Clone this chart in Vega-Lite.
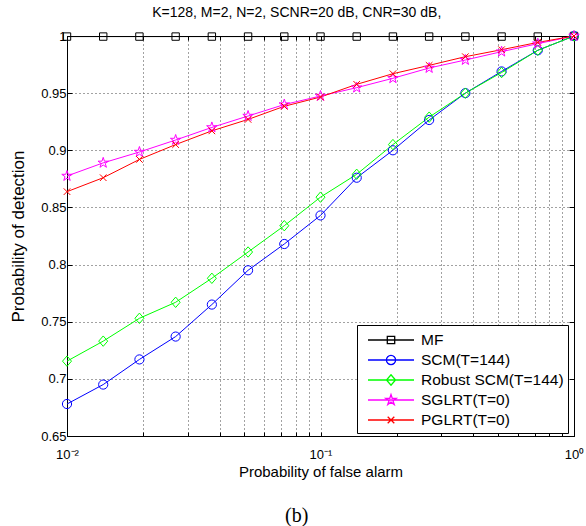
{
  "$schema": "https://vega.github.io/schema/vega-lite/v6.json",
  "padding": {"left": 9, "top": 5, "right": 5, "bottom": 0},
  "background": "white",
  "config": {
    "font": "Liberation Sans",
    "view": {"stroke": "black", "strokeWidth": 1},
    "axis": {
      "labelFont": "Liberation Sans", "labelFontSize": 13, "labelColor": "black",
      "titleFont": "Liberation Sans", "titleFontSize": 15, "titleFontWeight": "normal", "titleColor": "black",
      "domainColor": "black", "tickColor": "black",
      "gridColor": "#444", "gridDash": [1, 3], "gridOpacity": 1, "gridWidth": 1
    },
    "title": {"font": "Liberation Sans", "fontWeight": "normal", "color": "black"}
  },
  "title": {"text": "(b)", "orient": "bottom", "anchor": "middle", "font": "Liberation Serif", "fontSize": 20, "fontWeight": "normal", "offset": 26},
  "vconcat": [
    {
      "width": 507,
      "height": 400,
      "title": {"text": "K=128, M=2, N=2, SCNR=20 dB, CNR=30 dB,", "fontSize": 14, "anchor": "middle", "frame": "bounds", "offset": 9},
      "data": {"values": [
        {"x": 0.01, "y": 0.9995, "s": "MF"},
        {"x": 0.013895, "y": 0.9995, "s": "MF"},
        {"x": 0.019307, "y": 0.9995, "s": "MF"},
        {"x": 0.026827, "y": 0.9995, "s": "MF"},
        {"x": 0.037276, "y": 0.9995, "s": "MF"},
        {"x": 0.051795, "y": 0.9995, "s": "MF"},
        {"x": 0.071969, "y": 0.9995, "s": "MF"},
        {"x": 0.1, "y": 0.9995, "s": "MF"},
        {"x": 0.13895, "y": 0.9995, "s": "MF"},
        {"x": 0.19307, "y": 0.9995, "s": "MF"},
        {"x": 0.26827, "y": 0.9995, "s": "MF"},
        {"x": 0.37276, "y": 0.9995, "s": "MF"},
        {"x": 0.51795, "y": 0.9995, "s": "MF"},
        {"x": 0.71969, "y": 0.9995, "s": "MF"},
        {"x": 1, "y": 1, "s": "MF"},
        {"x": 0.01, "y": 0.678, "s": "SCM(T=144)"},
        {"x": 0.013895, "y": 0.695, "s": "SCM(T=144)"},
        {"x": 0.019307, "y": 0.717, "s": "SCM(T=144)"},
        {"x": 0.026827, "y": 0.737, "s": "SCM(T=144)"},
        {"x": 0.037276, "y": 0.765, "s": "SCM(T=144)"},
        {"x": 0.051795, "y": 0.795, "s": "SCM(T=144)"},
        {"x": 0.071969, "y": 0.818, "s": "SCM(T=144)"},
        {"x": 0.1, "y": 0.843, "s": "SCM(T=144)"},
        {"x": 0.13895, "y": 0.876, "s": "SCM(T=144)"},
        {"x": 0.19307, "y": 0.900, "s": "SCM(T=144)"},
        {"x": 0.26827, "y": 0.9265, "s": "SCM(T=144)"},
        {"x": 0.37276, "y": 0.950, "s": "SCM(T=144)"},
        {"x": 0.51795, "y": 0.969, "s": "SCM(T=144)"},
        {"x": 0.71969, "y": 0.9875, "s": "SCM(T=144)"},
        {"x": 1, "y": 1, "s": "SCM(T=144)"},
        {"x": 0.01, "y": 0.7155, "s": "Robust SCM(T=144)"},
        {"x": 0.013895, "y": 0.733, "s": "Robust SCM(T=144)"},
        {"x": 0.019307, "y": 0.753, "s": "Robust SCM(T=144)"},
        {"x": 0.026827, "y": 0.767, "s": "Robust SCM(T=144)"},
        {"x": 0.037276, "y": 0.788, "s": "Robust SCM(T=144)"},
        {"x": 0.051795, "y": 0.811, "s": "Robust SCM(T=144)"},
        {"x": 0.071969, "y": 0.834, "s": "Robust SCM(T=144)"},
        {"x": 0.1, "y": 0.859, "s": "Robust SCM(T=144)"},
        {"x": 0.13895, "y": 0.879, "s": "Robust SCM(T=144)"},
        {"x": 0.19307, "y": 0.905, "s": "Robust SCM(T=144)"},
        {"x": 0.26827, "y": 0.929, "s": "Robust SCM(T=144)"},
        {"x": 0.37276, "y": 0.950, "s": "Robust SCM(T=144)"},
        {"x": 0.51795, "y": 0.968, "s": "Robust SCM(T=144)"},
        {"x": 0.71969, "y": 0.9875, "s": "Robust SCM(T=144)"},
        {"x": 1, "y": 1, "s": "Robust SCM(T=144)"},
        {"x": 0.01, "y": 0.8775, "s": "SGLRT(T=0)"},
        {"x": 0.013895, "y": 0.889, "s": "SGLRT(T=0)"},
        {"x": 0.019307, "y": 0.8985, "s": "SGLRT(T=0)"},
        {"x": 0.026827, "y": 0.909, "s": "SGLRT(T=0)"},
        {"x": 0.037276, "y": 0.920, "s": "SGLRT(T=0)"},
        {"x": 0.051795, "y": 0.930, "s": "SGLRT(T=0)"},
        {"x": 0.071969, "y": 0.940, "s": "SGLRT(T=0)"},
        {"x": 0.1, "y": 0.9475, "s": "SGLRT(T=0)"},
        {"x": 0.13895, "y": 0.9548, "s": "SGLRT(T=0)"},
        {"x": 0.19307, "y": 0.963, "s": "SGLRT(T=0)"},
        {"x": 0.26827, "y": 0.972, "s": "SGLRT(T=0)"},
        {"x": 0.37276, "y": 0.979, "s": "SGLRT(T=0)"},
        {"x": 0.51795, "y": 0.9863, "s": "SGLRT(T=0)"},
        {"x": 0.71969, "y": 0.9933, "s": "SGLRT(T=0)"},
        {"x": 1, "y": 1, "s": "SGLRT(T=0)"},
        {"x": 0.01, "y": 0.8638, "s": "PGLRT(T=0)"},
        {"x": 0.013895, "y": 0.876, "s": "PGLRT(T=0)"},
        {"x": 0.019307, "y": 0.892, "s": "PGLRT(T=0)"},
        {"x": 0.026827, "y": 0.905, "s": "PGLRT(T=0)"},
        {"x": 0.037276, "y": 0.917, "s": "PGLRT(T=0)"},
        {"x": 0.051795, "y": 0.927, "s": "PGLRT(T=0)"},
        {"x": 0.071969, "y": 0.9385, "s": "PGLRT(T=0)"},
        {"x": 0.1, "y": 0.9466, "s": "PGLRT(T=0)"},
        {"x": 0.13895, "y": 0.9577, "s": "PGLRT(T=0)"},
        {"x": 0.19307, "y": 0.967, "s": "PGLRT(T=0)"},
        {"x": 0.26827, "y": 0.9743, "s": "PGLRT(T=0)"},
        {"x": 0.37276, "y": 0.9819, "s": "PGLRT(T=0)"},
        {"x": 0.51795, "y": 0.988, "s": "PGLRT(T=0)"},
        {"x": 0.71969, "y": 0.9944, "s": "PGLRT(T=0)"},
        {"x": 1, "y": 1, "s": "PGLRT(T=0)"}
      ]},
      "layer": [
        {
          "mark": {"type": "line", "strokeWidth": 1, "clip": true},
          "encoding": {
            "x": {"field": "x", "type": "quantitative", "title": "Probability of false alarm",
              "scale": {"type": "log", "domain": [0.01, 1]},
              "axis": {"values": [0.01,0.02,0.03,0.04,0.05,0.06,0.07,0.08,0.09,0.1,0.2,0.3,0.4,0.5,0.6,0.7,0.8,0.9,1],
                "labelExpr": "datum.value == 0.01 ? '10⁻²' : datum.value == 0.1 ? '10⁻¹' : datum.value == 1 ? '10⁰' : ''",
                "grid": true, "tickSize": -4, "labelPadding": 16, "titlePadding": 3, "labelFlush": false, "labelOverlap": false}},
            "y": {"field": "y", "type": "quantitative", "title": "Probability of detection",
              "scale": {"domain": [0.65, 1]},
              "axis": {"values": [0.65,0.7,0.75,0.8,0.85,0.9,0.95,1], "labelExpr": "format(datum.value, '.2~f')",
                "grid": true, "tickSize": -5, "labelPadding": 6, "titlePadding": 13, "titleFontSize": 17, "labelFlush": false}},
            "color": {"field": "s", "type": "nominal", "legend": null,
              "scale": {"domain": ["MF","SCM(T=144)","Robust SCM(T=144)","SGLRT(T=0)","PGLRT(T=0)"], "range": ["#000000","#0000FF","#00FF00","#FF00FF","#FF0000"]}}
          }
        },
        {
          "mark": {"type": "point", "filled": false, "strokeWidth": 1, "size": 400, "opacity": 1, "clip": false},
          "encoding": {
            "x": {"field": "x", "type": "quantitative", "scale": {"type": "log", "domain": [0.01, 1]}, "axis": null},
            "y": {"field": "y", "type": "quantitative", "scale": {"domain": [0.65, 1]}, "axis": null},
            "color": {"field": "s", "type": "nominal", "legend": null,
              "scale": {"domain": ["MF","SCM(T=144)","Robust SCM(T=144)","SGLRT(T=0)","PGLRT(T=0)"], "range": ["#000000","#0000FF","#00FF00","#FF00FF","#FF0000"]}},
            "shape": {"field": "s", "type": "nominal", "legend": null,
              "scale": {"domain": ["MF","SCM(T=144)","Robust SCM(T=144)","SGLRT(T=0)","PGLRT(T=0)"],
                "range": [
                  "M-0.37,-0.37L0.37,-0.37L0.37,0.37L-0.37,0.37Z",
                  "M-0.46,0A0.46,0.46,0,1,0,0.46,0A0.46,0.46,0,1,0,-0.46,0Z",
                  "M0,-0.52L0.45,0L0,0.52L-0.45,0Z",
                  "M0,-0.55L0.123,-0.17L0.523,-0.17L0.2,0.065L0.323,0.445L0,0.21L-0.323,0.445L-0.2,0.065L-0.523,-0.17L-0.123,-0.17Z",
                  "M-0.33,-0.33L0.33,0.33M-0.33,0.33L0.33,-0.33"
                ]}}
          }
        },
        {
          "transform": [{"filter": "datum.x > 10"}],
          "mark": {"type": "point", "filled": false, "strokeWidth": 1.3, "size": 400, "opacity": 1},
          "encoding": {
            "x": {"field": "x", "type": "quantitative", "scale": {"type": "log", "domain": [0.01, 1]}, "axis": null},
            "y": {"field": "y", "type": "quantitative", "scale": {"domain": [0.65, 1]}, "axis": null},
            "color": {"field": "s", "type": "nominal",
              "scale": {"domain": ["MF","SCM(T=144)","Robust SCM(T=144)","SGLRT(T=0)","PGLRT(T=0)"], "range": ["#000000","#0000FF","#00FF00","#FF00FF","#FF0000"]},
              "legend": {"title": null, "orient": "none", "legendX": 290, "legendY": 289, "labelFontSize": 15.5, "labelFont": "Liberation Sans", "labelColor": "black",
                "symbolSize": 400, "symbolStrokeWidth": 1.3, "symbolOpacity": 1, "symbolOffset": 19, "labelOffset": 19, "padding": 4, "rowPadding": 0,
                "fillColor": "white", "strokeColor": "black", "labelLimit": 300}},
            "shape": {"field": "s", "type": "nominal",
              "scale": {"domain": ["MF","SCM(T=144)","Robust SCM(T=144)","SGLRT(T=0)","PGLRT(T=0)"],
                "range": [
                  "M-2.3,0L2.3,0M-0.37,-0.37L0.37,-0.37L0.37,0.37L-0.37,0.37Z",
                  "M-2.3,0L2.3,0M-0.46,0A0.46,0.46,0,1,0,0.46,0A0.46,0.46,0,1,0,-0.46,0Z",
                  "M-2.3,0L2.3,0M0,-0.52L0.45,0L0,0.52L-0.45,0Z",
                  "M-2.3,0L2.3,0M0,-0.55L0.123,-0.17L0.523,-0.17L0.2,0.065L0.323,0.445L0,0.21L-0.323,0.445L-0.2,0.065L-0.523,-0.17L-0.123,-0.17Z",
                  "M-2.3,0L2.3,0M-0.33,-0.33L0.33,0.33M-0.33,0.33L0.33,-0.33"
                ]},
              "legend": {"title": null, "orient": "none", "legendX": 290, "legendY": 289, "labelFontSize": 15.5, "labelFont": "Liberation Sans", "labelColor": "black",
                "symbolSize": 400, "symbolStrokeWidth": 1.3, "symbolOpacity": 1, "symbolOffset": 19, "labelOffset": 19, "padding": 4, "rowPadding": 0,
                "fillColor": "white", "strokeColor": "black", "labelLimit": 300}}
          }
        },
        {
          "mark": {"type": "point", "opacity": 0},
          "encoding": {
            "x": {"field": "x", "type": "quantitative", "scale": {"type": "log", "domain": [0.01, 1]},
              "axis": {"orient": "top", "values": [0.01,0.02,0.03,0.04,0.05,0.06,0.07,0.08,0.09,0.1,0.2,0.3,0.4,0.5,0.6,0.7,0.8,0.9,1], "labels": false, "title": null, "grid": false, "tickSize": -4}},
            "y": {"field": "y", "type": "quantitative", "scale": {"domain": [0.65, 1]},
              "axis": {"orient": "right", "values": [0.65,0.7,0.75,0.8,0.85,0.9,0.95,1], "labels": false, "title": null, "grid": false, "tickSize": -5}}
          }
        }
      ],
      "resolve": {"scale": {"x": "independent", "y": "independent", "shape": "independent", "color": "independent"}, "axis": {"x": "independent", "y": "independent"}}
    }
  ]
}
